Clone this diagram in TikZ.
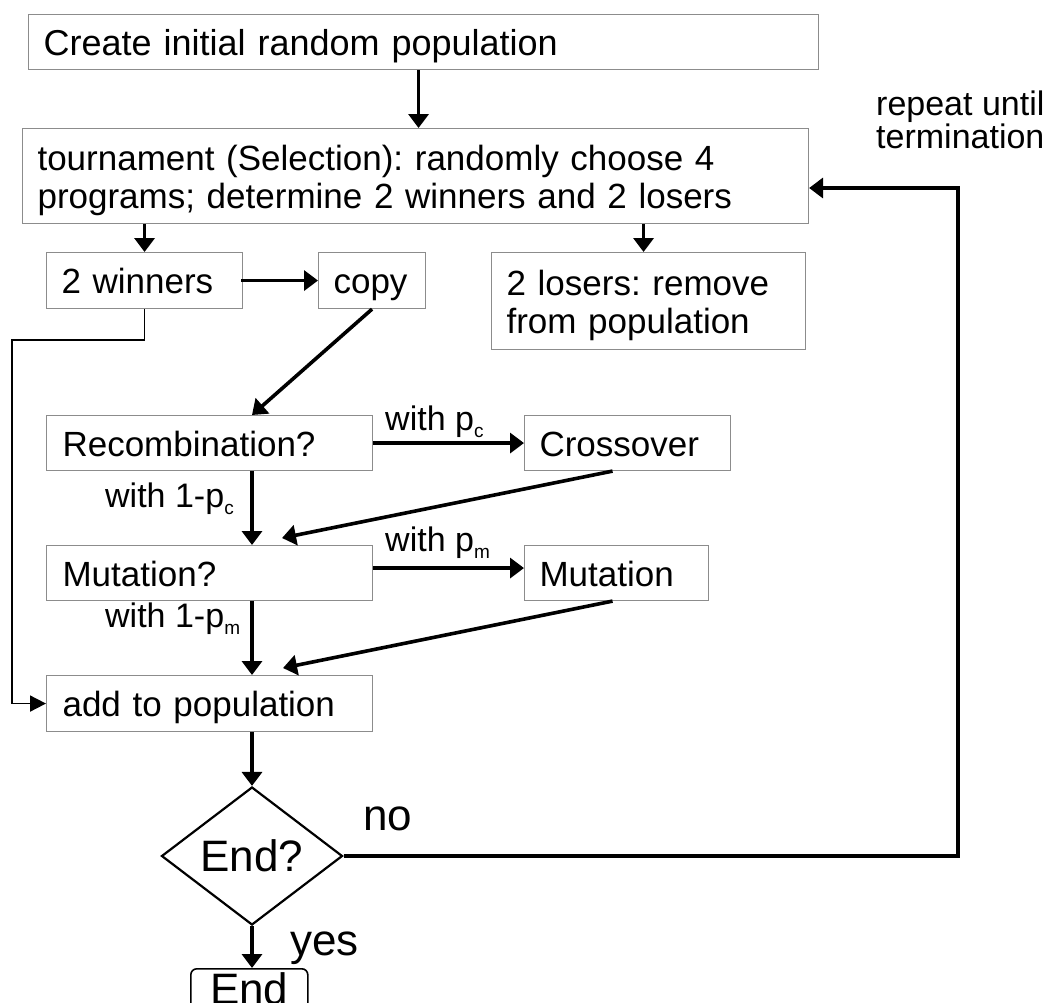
\documentclass[tikz,border=0pt]{standalone}
\usepackage{fontspec}
\setmainfont{Liberation Sans}
\frenchspacing
\usetikzlibrary{arrows.meta,shapes.geometric}
\definecolor{boxgray}{RGB}{140,140,140}
\newcommand{\subsc}[1]{\raisebox{-7pt}{\fontsize{19}{20}\selectfont #1}}
\tikzset{
  box/.style={draw=boxgray, line width=1.1pt, anchor=north west, inner sep=0pt,
    align=left, text height=30pt, text depth=4pt, font=\fontsize{35}{38}\selectfont},
  twoline/.style={text depth=42pt},
  lbl/.style={anchor=base west, inner sep=0pt, font=\fontsize{34}{36}\selectfont},
  big/.style={inner sep=0pt, font=\fontsize{44}{48}\selectfont},
  arr/.style={line width=3.6pt, -{Triangle[length=14pt,width=20pt]}},
  thinarr/.style={line width=1.8pt, -{Triangle[length=16pt,width=16pt]}},
}
\begin{document}
\begin{tikzpicture}[x=1pt,y=-1pt]
\useasboundingbox (0,0) rectangle (1047,1002);
\clip (0,0) rectangle (1047,1002);

% process boxes
\node[box, minimum width=790pt, minimum height=55pt, text width=760pt, font=\fontsize{36}{40}\selectfont]
  (create) at (28,14) {Create initial random population};
\node[box, twoline, minimum width=786pt, minimum height=95pt, text width=756pt]
  (tour) at (22,128) {tournament (Selection): randomly choose 4\\programs; determine 2 winners and 2 losers};
\node[box, minimum width=196pt, minimum height=56pt, text width=166pt]
  (win) at (46,252) {2 winners};
\node[box, minimum width=107pt, minimum height=56pt, text width=77pt]
  (copy) at (318,252) {copy};
\node[box, twoline, minimum width=314pt, minimum height=97pt, text width=284pt]
  (los) at (491,252) {2 losers: remove\\from population};
\node[box, minimum width=326pt, minimum height=55pt, text width=294pt]
  (rec) at (46,415) {Recombination?};
\node[box, minimum width=206pt, minimum height=55pt, text width=176pt]
  (cross) at (524,415) {Crossover};
\node[box, minimum width=326pt, minimum height=55pt, text width=294pt]
  (mutq) at (46,545) {Mutation?};
\node[box, minimum width=184pt, minimum height=55pt, text width=154pt]
  (mut) at (524,545) {Mutation};
\node[box, minimum width=326pt, minimum height=56pt, text width=294pt]
  (add) at (46,675) {add to population};

% decision and terminal
\node[big, draw, diamond, line width=2.2pt, minimum width=181pt, minimum height=138pt, aspect=1.3]
  (dia) at (252,856) {End?};
\node[big, draw, rounded corners=6pt, line width=1.6pt, anchor=north west,
  inner xsep=0pt, inner ysep=4pt, minimum width=117pt]
  (fin) at (190,968) {End};

% free ends of connectors
\coordinate (cin) at (282,538);
\coordinate (min) at (283,668);
\coordinate (wl) at (12,340);
\coordinate (loop) at (958,188);

% connectors
\draw[arr] ([xshift=-5pt]create.south) -- ([xshift=-5pt]create.south |- tour.north);
\draw[arr] (tour.south -| win.north) -- (win.north);
\draw[arr] ([xshift=-5pt]tour.south -| los.north) -- ([xshift=-5pt]los.north);
\draw[arr] ([xshift=-2pt]win.east) -- (copy.west);
\draw[arr] (copy.south) -- (rec.north -| dia.north);
\draw[thinarr] (win.south) |- (wl) |- (add.west);
\draw[arr] (rec.east) -- (cross.west);
\draw[arr] (rec.south -| dia.north) -- (mutq.north -| dia.north);
\draw[arr] ([xshift=-15pt]cross.south) -- (cin);
\draw[arr] ([yshift=5pt]mutq.east) -- ([yshift=5pt]mut.west);
\draw[arr] (mutq.south -| dia.north) -- (add.north -| dia.north);
\draw[arr] ([xshift=-4pt]mut.south) -- (min);
\draw[arr] (add.south -| dia.north) -- (dia.north);
\draw[arr] (dia.south) -- (dia.south |- fin.north);
\draw[arr] (dia.east) -| (loop) -- (tour.east |- loop);

% labels
\node[lbl] (lpc) at (385,430) {with p\subsc{c}};
\node[lbl] (lpm) at (385,551) {with p\subsc{m}};
\node[lbl] (lqc) at (105,507) {with 1-p\subsc{c}};
\node[lbl] (lqm) at (105,627) {with 1-p\subsc{m}};
\node[big, anchor=base west] (lno) at (363,830) {no};
\node[big, anchor=base west] (lyes) at (290,955) {yes};
\node[lbl, anchor=base west, align=left, font=\fontsize{34}{31}\selectfont]
  (rep) at (876,148) {repeat until\\termination};
\end{tikzpicture}
\end{document}
